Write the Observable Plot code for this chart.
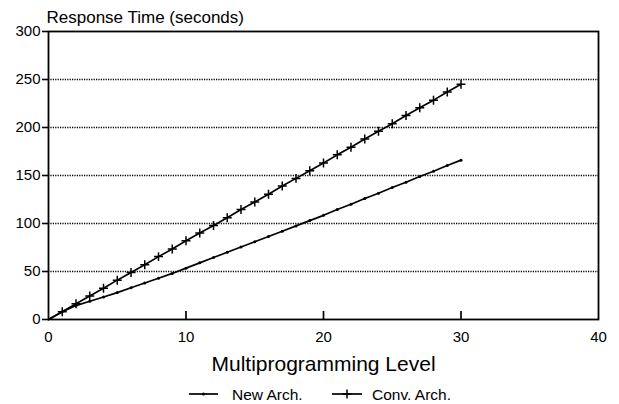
<!DOCTYPE html>
<html>
<head>
<meta charset="utf-8">
<script src="https://cdn.jsdelivr.net/npm/d3@7"></script>
<script src="https://cdn.jsdelivr.net/npm/@observablehq/plot@0.6"></script>
<style>
  body { margin: 0; background: #fff; }
</style>
</head>
<body>
<div id="chart"></div>
<script>
// ---- Data ----
const levels = [0,1,2,3,4,5,6,7,8,9,10,11,12,13,14,15,16,17,18,19,20,21,22,23,24,25,26,27,28,29,30];
const newArch = [0,8,14.5,19,23.5,28,33,38,43,48,53.5,59,64.5,70,75.5,81,86.5,92,97.5,103,108.5,114.5,120,126,131.5,137.5,143,149,154.5,160.5,166];
const convArch = [0,8,16.5,24.5,32.5,41,49,57,65.5,73.5,82,90,98,106,114.5,122.5,130.5,139,147,155,163,171.5,179.5,188,196,204,212.5,220.5,228.5,237,245];
const xTicks = [0,10,20,30,40];
const xInnerTicks = [10,20,30];
const yTicks = [0,50,100,150,200,250,300];
const gridValues = [50,100,150,200,250];
const titleText = "Response Time (seconds)";
const xLabel = "Multiprogramming Level";
const seriesNames = ["New Arch.", "Conv. Arch."];

const newData = levels.map((x, i) => ({x, y: newArch[i]}));
const convData = levels.map((x, i) => ({x, y: convArch[i]}));

const font = "'Liberation Sans', Arial, Helvetica, sans-serif";
const W = 619, H = 404, mT = 31, mB = 85;
const innerTickLen = 8;

const chart = Plot.plot({
  width: W,
  height: H,
  marginLeft: 48,
  marginRight: 21,
  marginTop: mT,
  marginBottom: mB,
  style: {fontFamily: font, background: "#fff", color: "#000", overflow: "visible"},
  x: {domain: [0, 40]},
  y: {domain: [0, 300]},
  marks: [
    Plot.ruleY(gridValues, {stroke: "#000", strokeWidth: 1.4, strokeDasharray: "1.2,1.2"}),
    Plot.frame({stroke: "#000", strokeWidth: 1.8}),
    Plot.axisY(yTicks, {tickSize: 6, tickPadding: 2, fontSize: 15, label: null, strokeWidth: 1.6}),
    Plot.axisX(xTicks, {tickSize: 0, tickPadding: 12, fontSize: 15, label: null}),
    Plot.tickX(xInnerTicks, {x: d => d, insetTop: (H - mT - mB) - innerTickLen, stroke: "#000", strokeWidth: 1.7}),
    Plot.line(newData, {x: "x", y: "y", stroke: "#000", strokeWidth: 1.7}),
    Plot.dot(newData.slice(1), {x: "x", y: "y", r: 1.5, fill: "#000"}),
    Plot.line(convData, {x: "x", y: "y", stroke: "#000", strokeWidth: 1.7}),
    Plot.dot(convData.slice(1), {x: "x", y: "y", symbol: "plus", r: 3, stroke: "#000", strokeWidth: 1.5}),
    Plot.text([titleText], {frameAnchor: "top-left", textAnchor: "start", lineAnchor: "bottom", dx: -2, dy: -9, fontSize: 17, fill: "#000"}),
    Plot.text([xLabel], {frameAnchor: "bottom", lineAnchor: "bottom", dy: 51, fontSize: 21, fill: "#000"})
  ]
});

// ---- Legend (drawn into the same SVG) ----
const svg = d3.select(chart);
const legend = svg.append("g").attr("font-family", font).attr("font-size", 15.5).attr("text-anchor", "start");
const items = [
  {name: seriesNames[0], x0: 189, x1: 218, tx: 232, marker: "dot"},
  {name: seriesNames[1], x0: 332, x1: 362, tx: 372, marker: "plus"}
];
const ly = 394;
items.forEach(it => {
  legend.append("line").attr("x1", it.x0).attr("x2", it.x1).attr("y1", ly).attr("y2", ly)
    .attr("stroke", "#000").attr("stroke-width", 1.7);
  const cx = (it.x0 + it.x1) / 2;
  if (it.marker === "dot") {
    legend.append("circle").attr("cx", cx).attr("cy", ly).attr("r", 1.5).attr("fill", "#000");
  } else {
    legend.append("path").attr("d", `M${cx},${ly - 4.5}V${ly + 4.5}M${cx - 4.5},${ly}H${cx + 4.5}`)
      .attr("stroke", "#000").attr("stroke-width", 1.5).attr("fill", "none");
  }
  legend.append("text").attr("x", it.tx).attr("y", ly + 6).attr("text-anchor", "start").text(it.name).attr("fill", "#000");
});

document.getElementById("chart").appendChild(chart);
</script>
</body>
</html>
